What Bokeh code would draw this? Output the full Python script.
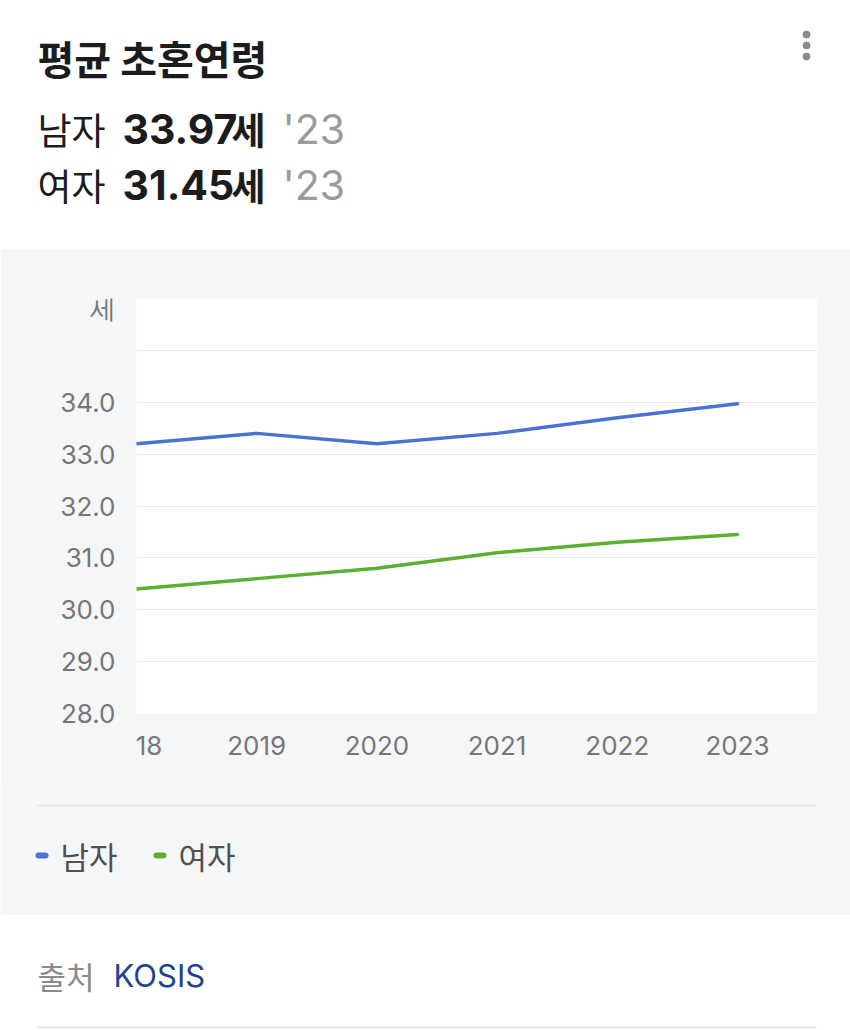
from bokeh.plotting import figure
from bokeh.models import Range1d, FixedTicker, ColumnDataSource
from bokeh.layouts import column
from bokeh.core.properties import value
from bokeh.embed import file_html
from bokeh.resources import INLINE

# ---------------- data ----------------
title = "평균 초혼연령"
years = [2018, 2019, 2020, 2021, 2022, 2023]
year_labels = ["18", "2019", "2020", "2021", "2022", "2023"]
series_names = ["남자", "여자"]
male = [33.2, 33.4, 33.2, 33.4, 33.7, 33.97]
female = [30.4, 30.6, 30.8, 31.1, 31.3, 31.45]
y_ticks = [28, 29, 30, 31, 32, 33, 34, 35, 36]
y_labels = ["28.0", "29.0", "30.0", "31.0", "32.0", "33.0", "34.0", "", ""]
y_unit = "세"
latest = "'23"
source_label = "출처"
source_name = "KOSIS"

# ---------------- style ----------------
KR = "Noto Sans CJK KR"
LAT = "Inter"
BLUE = "#4a72d1"
GREEN = "#5bb030"
PANEL = "#f5f6f8"
W = 850


def canvas(h, y0, y1, bg):
    p = figure(width=W, height=h, x_range=Range1d(0, W), y_range=Range1d(y1, y0),
               output_backend="svg", toolbar_location=None,
               x_axis_type=None, y_axis_type=None, min_border=0)
    p.frame_align = False
    p.background_fill_color = bg
    p.border_fill_color = bg
    p.outline_line_color = None
    return p


# ---------------- header ----------------
head = canvas(248, 0, 248, "white")
head.text(x=[37], y=[57], text=[title], text_font=value(KR), text_font_style="bold",
          text_font_size="40px", text_baseline="middle", text_color="#1c1c1c")
for vals, name, yy in [(male, series_names[0], 128), (female, series_names[1], 184)]:
    head.text(x=[37], y=[yy], text=[name], text_font=value(KR), text_font_size="37px",
              text_baseline="middle", text_color="#1c1c1c")
    head.text(x=[122], y=[yy], text=[f"{vals[-1]:.2f}"], text_font=value(LAT),
              text_font_style="bold", text_font_size="41px", text_baseline="middle",
              text_color="#1c1c1c")
    head.text(x=[231], y=[yy], text=[y_unit], text_font=value(KR), text_font_style="bold",
              text_font_size="37px", text_baseline="middle", text_color="#1c1c1c")
    head.text(x=[282], y=[yy], text=[latest], text_font=value(LAT), text_font_size="41px",
              text_baseline="middle", text_color="#9a9a9a")
head.scatter(x=[806, 806, 806], y=[34, 45, 56], size=7, color="#8a8a8a")

# ---------------- chart ----------------
src = ColumnDataSource(dict(x=years, male=male, female=female))
c = figure(width=W, height=542, x_range=Range1d(2018, 2018 + 680 / 120.2),
           y_range=Range1d(28, 36), output_backend="svg", toolbar_location=None,
           min_border_left=136, min_border_right=34, min_border_top=50, min_border_bottom=77)
c.frame_align = False
c.background_fill_color = "white"
c.border_fill_color = PANEL
c.outline_line_color = None

# first year label is cut at the plot edge in the original: show its visible part
x_tick_pos = [years[0] + 0.105] + years[1:]
c.xaxis.ticker = FixedTicker(ticks=x_tick_pos)
c.xaxis.major_label_overrides = {t: l for t, l in zip(x_tick_pos, year_labels)}
# unit label sits just under the top gridline
y_tick_pos = y_ticks[:-2] + [y_ticks[-1] - 0.2]
c.yaxis.ticker = FixedTicker(ticks=y_tick_pos)
c.yaxis.major_label_overrides = {t: l for t, l in zip(y_tick_pos, y_labels[:-2] + [y_unit])}
for ax in (c.xaxis, c.yaxis):
    ax.axis_line_color = None
    ax.major_tick_line_color = None
    ax.minor_tick_line_color = None
    ax.major_tick_out = 0
    ax.major_tick_in = 0
    ax.minor_tick_out = 0
    ax.major_label_text_font = LAT
    ax.major_label_text_font_size = "26px"
    ax.major_label_text_color = "#777777"
c.xaxis.major_label_standoff = 22
c.yaxis.major_label_standoff = 21
c.xgrid.visible = False
c.ygrid.ticker = FixedTicker(ticks=y_ticks)
c.ygrid.grid_line_color = "#ececec"
c.ygrid.grid_line_width = 1

c.line("x", "male", source=src, line_color=BLUE, line_width=3.5, line_cap="round", line_join="round")
c.line("x", "female", source=src, line_color=GREEN, line_width=3.5, line_cap="round", line_join="round")

# ---------------- legend ----------------
leg = canvas(125, 790, 915, PANEL)
leg.segment(x0=[37], y0=[805], x1=[816], y1=[805], line_color="#e4e5e8", line_width=1.5)
for name, col, x0 in [(series_names[0], BLUE, 38), (series_names[1], GREEN, 156)]:
    leg.segment(x0=[x0], y0=[855], x1=[x0 + 7], y1=[855], line_color=col, line_width=6,
                line_cap="round")
    leg.text(x=[x0 + 22], y=[855], text=[name], text_font=value(KR), text_font_size="31px",
             text_baseline="middle", text_color="#505050")

# ---------------- footer ----------------
foot = canvas(115, 915, 1030, "white")
foot.text(x=[37], y=[975], text=[source_label], text_font=value(KR), text_font_size="31px",
          text_baseline="middle", text_color="#8a8a8a")
foot.text(x=[113], y=[975], text=[source_name], text_font=value(LAT), text_font_size="31px",
          text_baseline="middle", text_color="#1f4391")
foot.segment(x0=[37], y0=[1027], x1=[816], y1=[1027], line_color="#e6e6e6", line_width=2)

page = column(head, c, leg, foot, spacing=0)
open("out.html", "w").write(file_html(page, INLINE))
